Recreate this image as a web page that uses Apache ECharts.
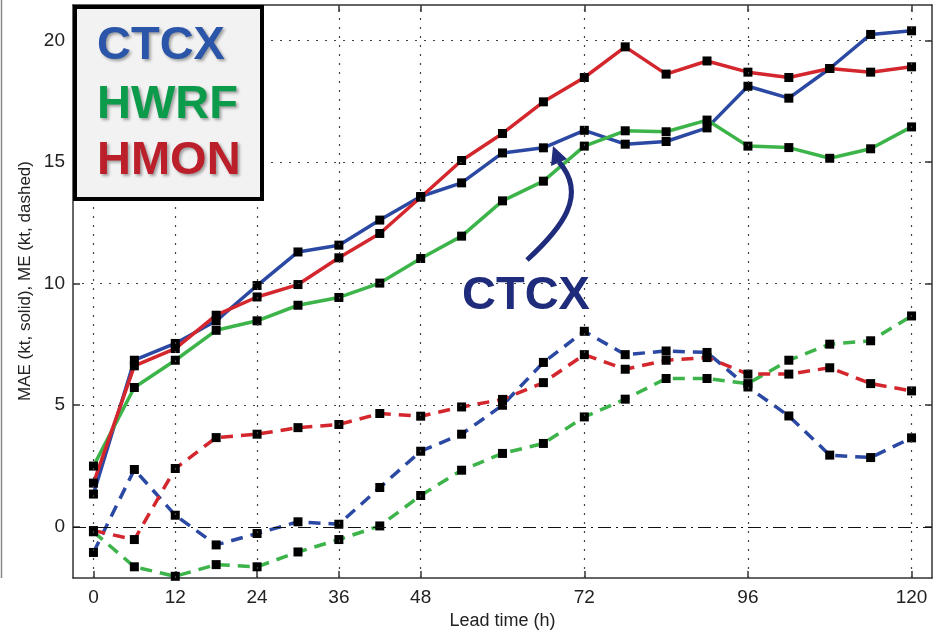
<!DOCTYPE html>
<html>
<head>
<meta charset="utf-8">
<script src="https://cdn.jsdelivr.net/npm/echarts@6/dist/echarts.min.js"></script>
<style>html,body{margin:0;padding:0;background:#fff;}#c{width:939px;height:637px;}</style>
</head>
<body>
<div id="c"></div>
<script>
// ---- data ----
const hours = [0,6,12,18,24,30,36,42,48,54,60,66,72,78,84,90,96,102,108,114,120];
const ctcxMAE = [1.35,6.85,7.54,8.47,9.92,11.30,11.58,12.61,13.58,14.14,15.37,15.58,16.30,15.73,15.84,16.40,18.11,17.62,18.84,20.24,20.39];
const hwrfMAE = [2.50,5.73,6.85,8.08,8.47,9.11,9.43,10.02,11.03,11.95,13.40,14.21,15.65,16.28,16.24,16.72,15.65,15.59,15.15,15.54,16.44];
const hmonMAE = [1.80,6.62,7.33,8.70,9.45,9.96,11.06,12.06,13.55,15.06,16.17,17.47,18.47,19.73,18.61,19.15,18.69,18.47,18.84,18.69,18.91];
const ctcxME = [-1.05,2.36,0.48,-0.74,-0.27,0.21,0.11,1.62,3.11,3.81,5.00,6.76,8.04,7.08,7.23,7.17,5.75,4.56,2.95,2.85,3.66];
const hwrfME = [-0.20,-1.64,-2.03,-1.55,-1.64,-1.03,-0.52,0.04,1.29,2.33,3.02,3.43,4.52,5.25,6.10,6.10,5.89,6.85,7.51,7.65,8.67];
const hmonME = [-0.15,-0.52,2.40,3.67,3.81,4.08,4.21,4.66,4.55,4.93,5.24,5.93,7.08,6.48,6.85,6.96,6.28,6.28,6.54,5.89,5.59];
const xTicks = [0,12,24,36,48,72,96,120];
const yTicks = [0,5,10,15,20];
const modelNames = ['CTCX','HWRF','HMON'];
const xName = 'Lead time (h)';
const yName = 'MAE (kt, solid), ME (kt, dashed)';
const annotation = 'CTCX';

// ---- styles ----
const colors = { CTCX: '#2b49a3', HWRF: '#3cb44a', HMON: '#d3262d' };
const legendColors = { CTCX: '#2a55a8', HWRF: '#0b9b4a', HMON: '#bb1f29' };
const textColor = '#222';
const fontFamily = 'Liberation Sans, Arial, sans-serif';

const chart = echarts.init(document.getElementById('c'), null, { renderer: 'canvas' });

function pairs(vals) { return hours.map((h, i) => [h, vals[i]]); }

function lineSeries(name, vals, dashed) {
  return {
    name: name,
    type: 'line',
    z: 3,
    data: pairs(vals),
    symbol: 'rect',
    symbolSize: 9,
    itemStyle: { color: '#000' },
    lineStyle: { color: colors[name], width: 3.5, type: dashed ? [12, 8] : 'solid' },
    emphasis: { disabled: true },
    animation: false
  };
}

const gridLineStyle = { color: '#444', width: 1.2, type: [2, 7] };
const gridMarks = [];
xTicks.forEach(v => gridMarks.push({ xAxis: v, lineStyle: gridLineStyle }));
yTicks.filter(v => v !== 0).forEach(v => gridMarks.push({ yAxis: v, lineStyle: gridLineStyle }));
gridMarks.push({ yAxis: 0, lineStyle: { color: '#111', width: 1.2, type: [13, 5, 2, 5] } });

const axisLineStyle = { color: '#333', width: 1.5 };

function xAxisDef(pos, labels) {
  return {
    type: 'value', position: pos, min: -3, max: 123,
    axisLine: { show: true, onZero: false, lineStyle: axisLineStyle },
    axisTick: { show: true, inside: true, length: 7, customValues: xTicks, lineStyle: { color: '#333', width: 1.5 } },
    axisLabel: labels ? { show: true, customValues: xTicks, fontSize: 19, color: textColor, margin: 10, fontFamily: fontFamily } : { show: false },
    splitLine: { show: false },
    name: labels ? xName : '', nameLocation: 'middle', nameGap: 33,
    nameTextStyle: { fontSize: 18, color: textColor, fontFamily: fontFamily }
  };
}
function yAxisDef(pos, labels) {
  return {
    type: 'value', position: pos, min: -2.1, max: 21.45,
    axisLine: { show: true, onZero: false, lineStyle: axisLineStyle },
    axisTick: { show: true, inside: true, length: 7, customValues: yTicks, lineStyle: { color: '#333', width: 1.5 } },
    axisLabel: labels ? { show: true, customValues: yTicks, fontSize: 19, color: textColor, margin: 8, fontFamily: fontFamily } : { show: false },
    splitLine: { show: false }
  };
}

const option = {
  animation: false,
  backgroundColor: '#fff',
  grid: { left: 73, right: 7, top: 5, bottom: 59, containLabel: false },
  xAxis: [xAxisDef('bottom', true), xAxisDef('top', false)],
  yAxis: [yAxisDef('left', true), yAxisDef('right', false)],
  series: [
    {
      name: 'grid', type: 'line', data: [], z: 1, silent: true,
      markLine: { silent: true, symbol: ['none', 'none'], label: { show: false }, animation: false, data: gridMarks }
    },
    lineSeries('CTCX', ctcxME, true),
    lineSeries('HWRF', hwrfME, true),
    lineSeries('HMON', hmonME, true),
    lineSeries('CTCX', ctcxMAE, false),
    lineSeries('HWRF', hwrfMAE, false),
    lineSeries('HMON', hmonMAE, false)
  ],
  graphic: [
    { type: 'line', silent: true, shape: { x1: 1.5, y1: 0, x2: 1.5, y2: 578 }, style: { stroke: '#888', lineWidth: 1.5 } },
    {
      type: 'text', silent: true, x: 25, y: 281, rotation: Math.PI / 2,
      style: { text: yName, fontSize: 17, fill: textColor, fontFamily: fontFamily, align: 'center', verticalAlign: 'middle' }
    },
    { type: 'rect', silent: true, z: 10, shape: { x: 75, y: 7, width: 187, height: 192 }, style: { fill: '#f2f2f2', stroke: '#000', lineWidth: 4 } },
    ...modelNames.map((n, i) => ({
      type: 'text', silent: true, z: 11, x: 97, y: [46, 105, 161][i],
      style: {
        text: n, fontSize: 47, fontWeight: 'bold', fontFamily: fontFamily,
        fill: legendColors[n], align: 'left', verticalAlign: 'middle',
        textShadowColor: 'rgba(0,0,0,0.35)', textShadowBlur: 3, textShadowOffsetX: 2, textShadowOffsetY: 2
      }
    })),
    {
      type: 'text', silent: true, z: 11, x: 526, y: 296,
      style: { text: annotation, fontSize: 47, fontWeight: 'bold', fontFamily: fontFamily, fill: '#1f2b7b', align: 'center', verticalAlign: 'middle' }
    },
    {
      type: 'bezierCurve', silent: true, z: 11,
      shape: { x1: 527, y1: 260, cpx1: 562, cpy1: 228, cpx2: 588, cpy2: 195, x2: 559, y2: 162 },
      style: { stroke: '#1f2b7b', lineWidth: 5, fill: null }
    },
    {
      type: 'polygon', silent: true, z: 11,
      shape: { points: [[553, 146], [551, 166], [567, 159]] },
      style: { fill: '#1f2b7b' }
    }
  ]
};
chart.setOption(option);
</script>
</body>
</html>
